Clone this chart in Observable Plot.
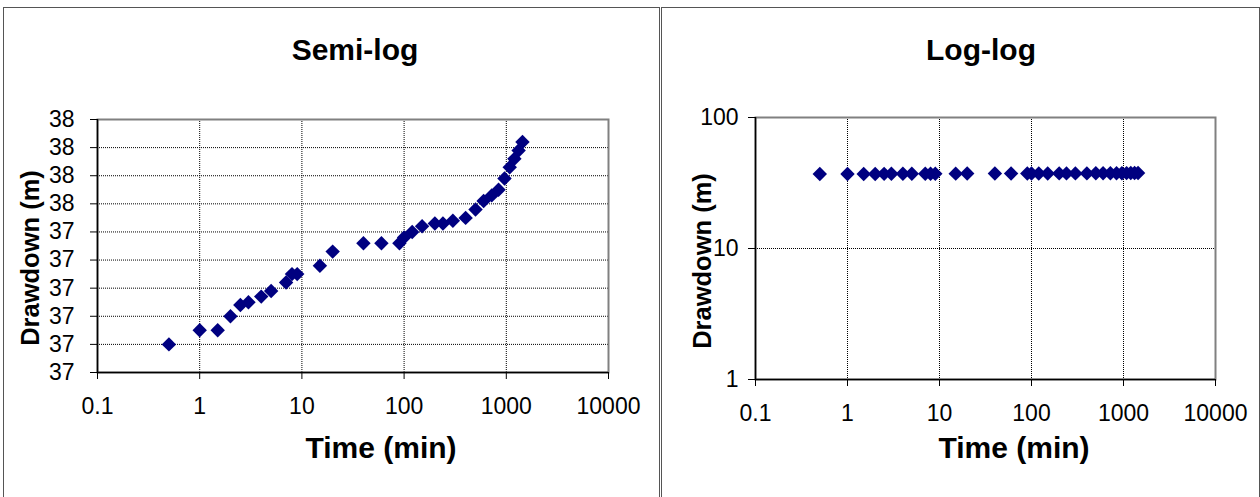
<!DOCTYPE html>
<html><head><meta charset="utf-8">
<script src="https://cdn.jsdelivr.net/npm/d3@7"></script>
<script src="https://cdn.jsdelivr.net/npm/@observablehq/plot@0.6"></script>
<style>
html,body{margin:0;padding:0;background:#fff;}
body{width:1260px;height:497px;position:relative;overflow:hidden;font-family:"Liberation Sans",Arial,sans-serif;color:#000;}
.panel{position:absolute;top:7px;height:520px;border:1px solid #555;box-sizing:border-box;}
.lbl{position:absolute;font-weight:bold;white-space:nowrap;line-height:1;transform:translate(-50%,-50%);}
.ylab{transform:translate(-50%,-50%) rotate(-90deg);}
.chart{position:absolute;top:100px;}
</style>
</head><body>
<div class="panel" style="left:3px;width:657px;"></div>
<div class="panel" style="left:661px;width:599px;"></div>
<div class="lbl" style="left:355px;top:50px;font-size:30px;">Semi-log</div>
<div class="lbl" style="left:981px;top:50px;font-size:30px;">Log-log</div>
<div class="lbl" style="left:381px;top:448px;font-size:30px;">Time (min)</div>
<div class="lbl" style="left:1014px;top:448px;font-size:30px;">Time (min)</div>
<div class="lbl ylab" style="left:31px;top:258px;font-size:25.5px;">Drawdown (m)</div>
<div class="lbl ylab" style="left:703px;top:261px;font-size:25.5px;">Drawdown (m)</div>
<div id="left" class="chart" style="left:0px;"></div>
<div id="right" class="chart" style="left:662px;"></div>
<script>
const time = [0.5, 1, 1.5, 2, 2.5, 3, 4, 5, 7, 8, 9, 15, 20, 40, 60, 90, 100, 120, 150, 200, 240, 300, 400, 500, 600, 720, 840, 960, 1080, 1200, 1320, 1440];
const drawdown = [37.00, 37.05, 37.05, 37.10, 37.14, 37.15, 37.17, 37.19, 37.22, 37.25, 37.25, 37.28, 37.33, 37.36, 37.36, 37.36, 37.38, 37.40, 37.42, 37.43, 37.43, 37.44, 37.45, 37.48, 37.51, 37.53, 37.55, 37.59, 37.63, 37.66, 37.69, 37.72];
const timeTicks = [0.1, 1, 10, 100, 1000, 10000];
const semiTicks = [36.9, 37.0, 37.1, 37.2, 37.3, 37.4, 37.5, 37.6, 37.7, 37.8];
const logTicks = [1, 10, 100];

const data = time.map((t, i) => ({t, s: drawdown[i]}));
const font = "'Liberation Sans', Arial, sans-serif";
const gridStyle = {stroke: "#000", strokeOpacity: 1, strokeWidth: 1, strokeDasharray: "1 1"};
const navy = "#000080";

const semi = Plot.plot({
  width: 657, height: 340,
  marginLeft: 97, marginRight: 49, marginTop: 19, marginBottom: 68,
  style: {fontFamily: font, background: "transparent", overflow: "visible", color: "#000"},
  x: {type: "log", domain: [0.1, 10000]},
  y: {domain: [36.9, 37.8]},
  marks: [
    Plot.gridX(timeTicks.slice(1, -1), gridStyle),
    Plot.gridY(semiTicks.slice(1, -1), gridStyle),
    Plot.frame({stroke: "#808080", strokeWidth: 2}),
    Plot.ruleX([timeTicks[0]], {stroke: "#000", strokeWidth: 1.5}),
    Plot.ruleY([semiTicks[0]], {stroke: "#000", strokeWidth: 1.5}),
    Plot.axisX(timeTicks, {tickSize: 7, tickPadding: 18, fontSize: 23, tickFormat: d => String(d), label: null}),
    Plot.axisY(semiTicks, {tickSize: 7, tickPadding: 16, fontSize: 23, tickFormat: d => String(Math.round(d)), label: null}),
    Plot.dot(data, {x: "t", y: "s", symbol: "diamond2", r: 6.5, fill: navy, stroke: "none"})
  ]
});
document.getElementById("left").append(semi);

const loglog = Plot.plot({
  width: 596, height: 340,
  marginLeft: 93, marginRight: 43, marginTop: 17, marginBottom: 61,
  style: {fontFamily: font, background: "transparent", overflow: "visible", color: "#000"},
  x: {type: "log", domain: [0.1, 10000]},
  y: {type: "log", domain: [1, 100]},
  marks: [
    Plot.gridX(timeTicks.slice(1, -1), gridStyle),
    Plot.gridY(logTicks.slice(1, -1), gridStyle),
    Plot.frame({stroke: "#808080", strokeWidth: 2}),
    Plot.ruleX([timeTicks[0]], {stroke: "#000", strokeWidth: 1.5}),
    Plot.ruleY([logTicks[0]], {stroke: "#000", strokeWidth: 1.5}),
    Plot.axisX(timeTicks, {tickSize: 7, tickPadding: 18, fontSize: 23, tickFormat: d => String(d), label: null}),
    Plot.axisY(logTicks, {tickSize: 7, tickPadding: 10, fontSize: 23, tickFormat: d => String(d), label: null}),
    Plot.dot(data, {x: "t", y: "s", symbol: "diamond2", r: 6.5, fill: navy, stroke: "none"})
  ]
});
document.getElementById("right").append(loglog);
</script>
</body></html>
